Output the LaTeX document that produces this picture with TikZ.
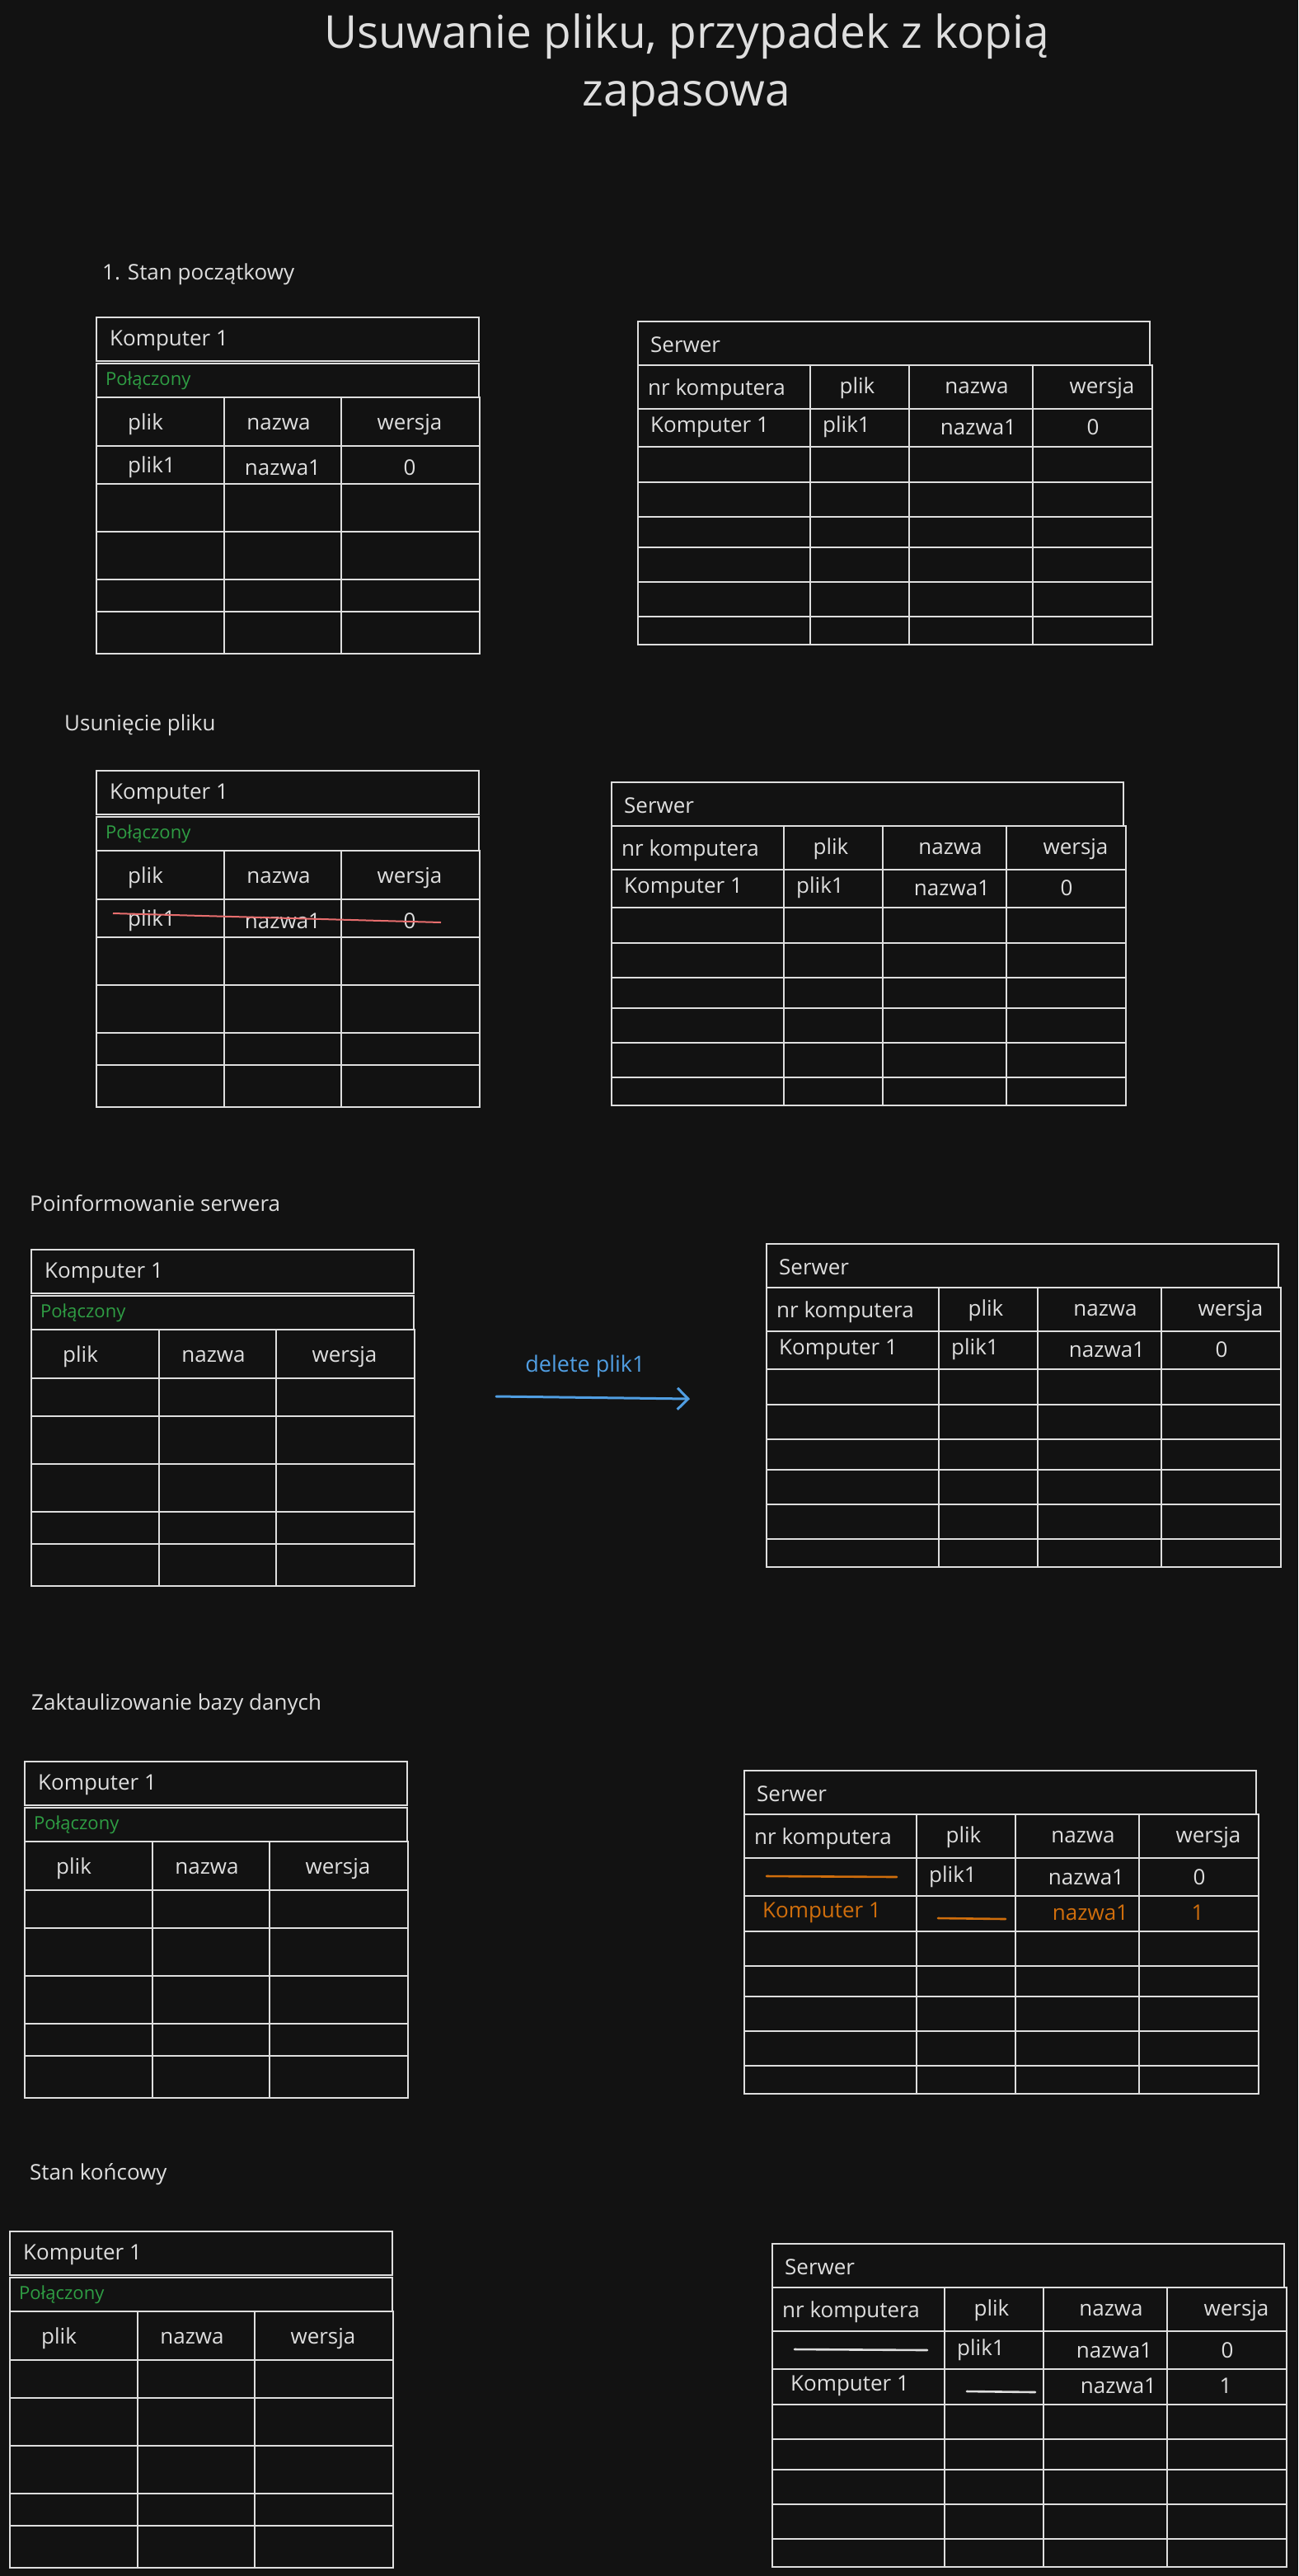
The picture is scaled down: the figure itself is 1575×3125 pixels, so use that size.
\documentclass[tikz,border=0pt]{standalone}
\usepackage{fontspec}
\setmainfont{Open Sans}
\usetikzlibrary{arrows.meta}

\definecolor{bgc}{RGB}{18,18,18}
\definecolor{inkc}{RGB}{222,222,222}
\definecolor{okgreen}{RGB}{47,158,68}
\definecolor{msgblue}{RGB}{80,158,226}
\definecolor{neworange}{RGB}{208,110,12}
\definecolor{strikered}{RGB}{232,110,110}

\begin{document}
\begin{tikzpicture}[x=1pt,y=1pt,yscale=-1,
  grid/.style={draw=inkc, line width=2.2pt},
  txt/.style={text=inkc, inner sep=0pt, font=\fontsize{26}{31}\selectfont},
  ttl/.style={text=inkc, inner sep=0pt, align=center, font=\fontsize{55}{70}\selectfont},
  stat/.style={text=okgreen, inner sep=0pt, font=\fontsize{22}{26}\selectfont},
  msg/.style={text=msgblue, inner sep=0pt, font=\fontsize{27}{32}\selectfont},
  newtxt/.style={txt, text=neworange},
  gone/.style={line width=2.6pt, line cap=round}
]
\fill[bgc] (0,0) rectangle (1575,3125);
\useasboundingbox (0,0) rectangle (1575,3125);

% Title
\node[ttl] (title) at (833,79) {Usuwanie pliku, przypadek z kopią\\zapasowa};

% Section headings
\node[txt,anchor=west] (h1) at (124,333) {1. Stan początkowy};
\node[txt,anchor=west] (h2) at (78,880) {Usunięcie pliku};
\node[txt,anchor=west] (h3) at (36,1460) {Poinformowanie serwera};
\node[txt,anchor=west] (h4) at (38,2068) {Zaktaulizowanie bazy danych};
\node[txt,anchor=west] (h5) at (36,2638) {Stan końcowy};

% Empty tables: Komputer (left) and Serwer (right) in every step
\foreach \n/\kx/\ky/\sx/\sy in {1/117/385/774/390, 2/117/935/742/949, 3/38/1516/930/1509, 4/30/2137/903/2148, 5/12/2707/937/2722}{
  \begin{scope}[shift={(\kx,\ky)}]
    \draw[grid] (0,0) rectangle (464,53);
    \draw[grid] (0,56) rectangle (464,97);
    \draw[grid] (0,97) rectangle (465,408);
    \foreach \r in {156,202,260,318,357} \draw[grid] (0,\r) -- (465,\r);
    \foreach \c in {155,297} \draw[grid] (\c,97) -- (\c,408);
    \node[txt,anchor=west] (k\n-name) at (16,28) {Komputer 1};
    \node[stat,anchor=west] (k\n-stat) at (11,77) {Połączony};
    \node[txt,anchor=west] (k\n-plik) at (38,130) {plik};
    \node[txt] (k\n-nazwa) at (221,130) {nazwa};
    \node[txt] (k\n-wersja) at (380,130) {wersja};
  \end{scope}
  \begin{scope}[shift={(\sx,\sy)}]
    \draw[grid] (0,0) rectangle (621,53);
    \draw[grid] (0,53) rectangle (624,392);
    \foreach \r in {106,152,195,237,274,316,358} \draw[grid] (0,\r) -- (624,\r);
    \foreach \c in {209,329,479} \draw[grid] (\c,53) -- (\c,392);
    \node[txt,anchor=west] (s\n-name) at (15,28) {Serwer};
    \node[txt,anchor=west] (s\n-nr) at (12,83) {nr komputera};
    \node[txt] (s\n-plik) at (266,81) {plik};
    \node[txt] (s\n-nazwa) at (411,81) {nazwa};
    \node[txt] (s\n-wersja) at (563,81) {wersja};
  \end{scope}
}

% Step 1: stan poczatkowy
\begin{scope}[shift={(117,385)}]
  \node[txt,anchor=west] (k1-r1a) at (38,182) {plik1};
  \node[txt] (k1-r1b) at (226,182) {nazwa1};
  \node[txt] (k1-r1c) at (380,182) {0};
\end{scope}
\begin{scope}[shift={(774,390)}]
  \node[txt,anchor=west] (s1-r1a) at (15,128) {Komputer 1};
  \node[txt,anchor=west] (s1-r1b) at (224,128) {plik1};
  \node[txt] (s1-r1c) at (413,128) {nazwa1};
  \node[txt] (s1-r1d) at (552,128) {0};
\end{scope}

% Step 2: usuniecie pliku
\begin{scope}[shift={(117,935)}]
  \node[txt,anchor=west] (k2-r1a) at (38,182) {plik1};
  \node[txt] (k2-r1b) at (226,182) {nazwa1};
  \node[txt] (k2-r1c) at (380,182) {0};
  \draw[strikered, line width=2pt] (20,173) -- (418,184);
\end{scope}
\begin{scope}[shift={(742,949)}]
  \node[txt,anchor=west] (s2-r1a) at (15,128) {Komputer 1};
  \node[txt,anchor=west] (s2-r1b) at (224,128) {plik1};
  \node[txt] (s2-r1c) at (413,128) {nazwa1};
  \node[txt] (s2-r1d) at (552,128) {0};
\end{scope}

% Step 3: poinformowanie serwera
\begin{scope}[shift={(930,1509)}]
  \node[txt,anchor=west] (s3-r1a) at (15,128) {Komputer 1};
  \node[txt,anchor=west] (s3-r1b) at (224,128) {plik1};
  \node[txt] (s3-r1c) at (413,128) {nazwa1};
  \node[txt] (s3-r1d) at (552,128) {0};
\end{scope}
\coordinate (msgfrom) at (602,1694);
\coordinate (msgto) at (837,1697);
\draw[msgblue, line width=3pt, line cap=round, -{Straight Barb[length=13pt,width=26pt,line width=3pt]}] (msgfrom) -- (msgto);
\node[msg] (msg) at (710,1657) {delete plik1};

% Step 4: zaktualizowanie bazy
\begin{scope}[shift={(903,2148)}]
  \draw[neworange, gone] (27,128) -- (185,129);
  \node[txt,anchor=west] (s4-r1b) at (224,129) {plik1};
  \node[txt] (s4-r1c) at (415,129) {nazwa1};
  \node[txt] (s4-r1d) at (552,129) {0};
  \node[newtxt,anchor=west] (s4-r2a) at (22,172) {Komputer 1};
  \draw[neworange, gone] (235,179) -- (317,180);
  \node[newtxt] (s4-r2c) at (420,172) {nazwa1};
  \node[newtxt] (s4-r2d) at (550,172) {1};
\end{scope}

% Step 5: stan koncowy
\begin{scope}[shift={(937,2722)}]
  \draw[inkc, gone] (27,128) -- (188,129);
  \node[txt,anchor=west] (s5-r1b) at (224,129) {plik1};
  \node[txt] (s5-r1c) at (415,129) {nazwa1};
  \node[txt] (s5-r1d) at (552,129) {0};
  \node[txt,anchor=west] (s5-r2a) at (22,172) {Komputer 1};
  \draw[inkc, gone] (236,179) -- (319,180);
  \node[txt] (s5-r2c) at (420,172) {nazwa1};
  \node[txt] (s5-r2d) at (550,172) {1};
\end{scope}

\end{tikzpicture}
\end{document}
